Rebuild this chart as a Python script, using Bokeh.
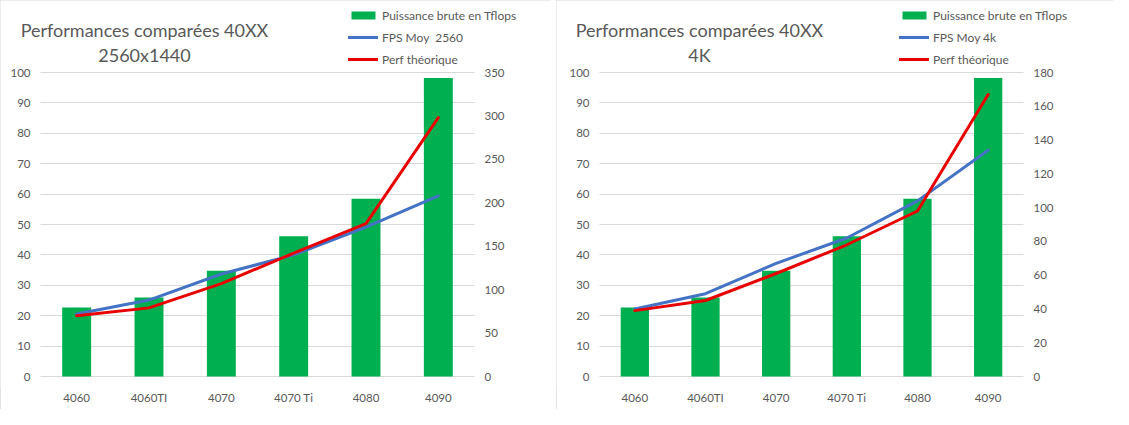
from bokeh.plotting import figure
from bokeh.models import (Range1d, LinearAxis, FixedTicker, Label, Legend, LegendItem)
from bokeh.layouts import row
from bokeh.embed import file_html
from bokeh.resources import INLINE

# ---- data ----
cats = ["4060", "4060TI", "4070", "4070 Ti", "4080", "4090"]
tflops = [22.7, 26.0, 34.8, 46.1, 58.5, 98.2]
fps_2560 = [72, 88, 118, 140, 172, 208]
perf_2560 = [70, 79, 107, 142, 176, 298]
fps_4k = [40, 49, 67, 82, 104, 134]
perf_4k = [39, 45, 61, 78, 98, 167]

left_ticks = [0, 10, 20, 30, 40, 50, 60, 70, 80, 90, 100]
right_ticks_2560 = [0, 50, 100, 150, 200, 250, 300, 350]
right_ticks_4k = [0, 20, 40, 60, 80, 100, 120, 140, 160, 180]

title_main = "Performances comparées 40XX"
subtitle_2560 = "2560x1440"
subtitle_4k = "4K"
bar_label = "Puissance brute en Tflops"
fps_label_2560 = "FPS Moy  2560"
fps_label_4k = "FPS Moy 4k"
perf_label = "Perf théorique"

FONT = "Lato"
TXT = "#595959"
GRID = "#d9d9d9"
HEIGHT = 409
B_BOT = 22
FRAME_H = HEIGHT - B_BOT          # frame spans from the top of the figure
PLOT_TOP = 72                     # pixels from figure top to the top gridline
ZERO_PX = 376                     # pixels from figure top to the zero gridline

idx = list(range(len(cats)))
lo, hi = idx[0] - 0.5, idx[-1] + 0.5


def padded_range(top_value):
    per_px = top_value / (ZERO_PX - PLOT_TOP)
    return Range1d(-(FRAME_H - ZERO_PX) * per_px, top_value + PLOT_TOP * per_px)


def make_panel(width, area_left, area_right, sub, fps_label, fps, perf, rticks, title_x, legend_x):
    unit = (area_right - area_left) / len(cats)
    x0 = lo - area_left / unit
    x1 = hi + (width - area_right) / unit
    p = figure(width=width, height=HEIGHT, x_range=Range1d(x0, x1),
               y_range=padded_range(left_ticks[-1]), output_backend="svg",
               toolbar_location=None, min_border_left=0, min_border_right=0,
               min_border_top=0, min_border_bottom=B_BOT)
    p.extra_y_ranges = {"right": padded_range(rticks[-1])}
    p.outline_line_color = None
    p.background_fill_color = "white"
    p.border_fill_color = "white"
    p.styles = {"outline": "1px solid #d9d9d9", "outline-offset": "-1px"}

    p.xgrid.grid_line_color = None
    p.yaxis.ticker = FixedTicker(ticks=left_ticks)
    p.ygrid.grid_line_color = GRID
    p.ygrid.grid_line_width = 1
    try:
        p.ygrid.cross_bounds = (lo, hi)
    except Exception:
        p.ygrid.grid_line_color = None
        p.segment(x0=[lo] * len(left_ticks), x1=[hi] * len(left_ticks),
                  y0=left_ticks, y1=left_ticks, line_color=GRID, line_width=1)

    p.xaxis.ticker = FixedTicker(ticks=idx)
    p.xaxis.major_label_overrides = {i: c for i, c in zip(idx, cats)}

    raxis = LinearAxis(y_range_name="right", ticker=FixedTicker(ticks=rticks))
    p.add_layout(raxis, "right")
    p.yaxis[0].fixed_location = lo
    raxis.fixed_location = hi

    for ax in [p.xaxis[0], p.yaxis[0], raxis]:
        ax.axis_line_color = None
        ax.major_tick_line_color = None
        ax.minor_tick_line_color = None
        ax.major_tick_out = 0
        ax.major_tick_in = 0
        ax.minor_tick_out = 0
        ax.major_label_text_color = TXT
        ax.major_label_text_font = FONT
        ax.major_label_text_font_size = "11.5px"
        ax.major_label_standoff = 10
    p.xaxis[0].major_label_standoff = 3

    bars = p.vbar(x=idx, top=tflops, width=0.4, fill_color="#00B050", line_color=None)
    blue = p.line(x=idx, y=fps, y_range_name="right", line_color="#4472C4",
                  line_width=3, line_join="round", line_cap="round")
    red = p.line(x=idx, y=perf, y_range_name="right", line_color="#E80000",
                 line_width=3, line_join="round", line_cap="round")

    legend = Legend(items=[LegendItem(label=bar_label, renderers=[bars]),
                           LegendItem(label=fps_label, renderers=[blue]),
                           LegendItem(label=perf_label, renderers=[red])],
                    location=(legend_x, FRAME_H - 69))
    legend.padding = 0
    legend.margin = 0
    legend.spacing = 2
    legend.glyph_width = 30
    legend.glyph_height = 10
    legend.label_height = 20
    legend.label_standoff = 4
    legend.border_line_color = None
    legend.background_fill_alpha = 0
    legend.label_text_color = TXT
    legend.label_text_font = FONT
    legend.label_text_font_size = "12px"
    p.add_layout(legend, "center")

    for txt, top in [(title_main, 29), (sub, 54)]:
        p.add_layout(Label(x=title_x, y=FRAME_H - top, x_units="screen", y_units="screen",
                           text=txt, text_align="center", text_baseline="middle",
                           text_color=TXT, text_font=FONT, text_font_size="18px"))
    return p


p1 = make_panel(551, 40, 474, subtitle_2560, fps_label_2560, fps_2560, perf_2560,
                right_ticks_2560, 144, 348)
p2 = make_panel(557, 43, 467, subtitle_4k, fps_label_4k, fps_4k, perf_4k,
                right_ticks_4k, 143, 343)

layout = row(p1, p2, spacing=5)
open("out.html", "w").write(file_html(layout, INLINE))
